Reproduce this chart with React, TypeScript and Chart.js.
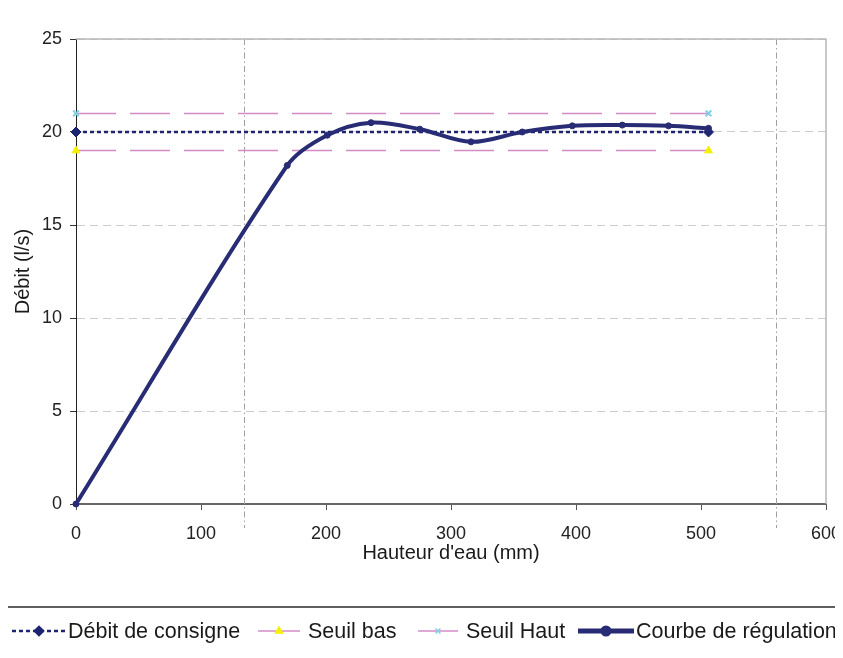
import React, { useEffect, useRef } from "react";
import { Chart, registerables } from "chart.js";
import { drawPoint } from "chart.js/helpers";

Chart.register(...registerables);

// ---- data ----
const hauteur = [0, 169, 201, 236, 275, 316, 357, 397, 437, 474, 506];
const debitRegulation = [0, 18.2, 19.83, 20.5, 20.15, 19.47, 20.0, 20.33, 20.37, 20.33, 20.2];
const seuilHauteur = [0, 506];
const debitConsigne = [20, 20];
const seuilBas = [19, 19];
const seuilHaut = [21, 21];
const xTickStep = 100;
const yTickStep = 5;
const xRange = [0, 600];
const yRange = [0, 25];
const refLines = [134.4, 560];
const labels = ["Débit de consigne", "Seuil bas", "Seuil Haut", "Courbe de régulation"];
const xTitle = "Hauteur d'eau (mm)";
const yTitle = "Débit (l/s)";

const FONT = '"Liberation Sans", Arial, Helvetica, sans-serif';
const NAVY = "#272c74";
const PINK = "#d48cc8";
const W = 835;
const H = 642;

const toPts = (xs: number[], ys: number[]) => xs.map((x, i) => ({ x, y: ys[i] }));

const framePlugin = {
  id: "frame",
  beforeDatasetsDraw(chart: any) {
    const { ctx, chartArea, scales } = chart;
    ctx.save();
    ctx.strokeStyle = "#a0a0a0";
    ctx.lineWidth = 1;
    ctx.setLineDash([6, 3, 1.5, 3]);
    refLines.forEach((v) => {
      const x = Math.round(scales.x.getPixelForValue(v)) + 0.5;
      ctx.beginPath();
      ctx.moveTo(x, chartArea.top);
      ctx.lineTo(x, chartArea.bottom + 24);
      ctx.stroke();
    });
    ctx.setLineDash([]);
    ctx.strokeStyle = "#b8b8b8";
    ctx.lineWidth = 1.5;
    ctx.beginPath();
    ctx.moveTo(chartArea.left, chartArea.top);
    ctx.lineTo(chartArea.right, chartArea.top);
    ctx.lineTo(chartArea.right, chartArea.bottom);
    ctx.stroke();
    ctx.restore();
  },
};

const legendLayout = [
  { x0: 4, x1: 58, tx: 60, solid: false, r: 4 },
  { x0: 250, x1: 292, tx: 300, solid: true, r: 4 },
  { x0: 410, x1: 450, tx: 458, solid: true, r: 3.5 },
  { x0: 570, x1: 626, tx: 628, solid: false, r: 3 },
];

const legendPlugin = {
  id: "customLegend",
  afterDraw(chart: any) {
    const { ctx, width } = chart;
    ctx.save();
    ctx.strokeStyle = "#5f5f5f";
    ctx.lineWidth = 2;
    ctx.beginPath();
    ctx.moveTo(0, 599);
    ctx.lineTo(width, 599);
    ctx.stroke();
    const y = 623;
    chart.data.datasets.forEach((ds: any, i: number) => {
      const L = legendLayout[i];
      ctx.save();
      ctx.strokeStyle = ds.borderColor;
      ctx.lineWidth = ds.legendLineWidth || ds.borderWidth;
      ctx.setLineDash(L.solid ? [] : ds.borderDash || []);
      ctx.beginPath();
      ctx.moveTo(L.x0, y);
      ctx.lineTo(L.x1, y);
      ctx.stroke();
      ctx.setLineDash([]);
      ctx.fillStyle = ds.pointBackgroundColor;
      ctx.strokeStyle = ds.pointBorderColor;
      drawPoint(ctx, {
        pointStyle: ds.pointStyle,
        radius: L.r,
        borderWidth: ds.pointBorderWidth,
        rotation: 0,
      }, (L.x0 + L.x1) / 2, y);
      ctx.restore();
      ctx.font = `21.5px ${FONT}`;
      ctx.fillStyle = "#1a1a1a";
      ctx.textBaseline = "middle";
      ctx.textAlign = "left";
      ctx.fillText(ds.label, L.tx, y + 1);
    });
    ctx.restore();
  },
};

export default function App() {
  const ref = useRef<HTMLCanvasElement | null>(null);
  useEffect(() => {
    document.documentElement.style.overflow = "hidden";
    const root = document.getElementById("root");
    if (root) root.style.width = W + "px";
    if (!ref.current) return;
    const chart = new Chart(ref.current, {
      type: "line",
      data: {
        datasets: [
          {
            label: labels[0],
            data: toPts(seuilHauteur, debitConsigne),
            borderColor: "#1e2470",
            borderWidth: 2.5,
            borderDash: [4, 3],
            pointStyle: "rectRot",
            pointRadius: 5,
            pointBackgroundColor: "#1e2470",
            pointBorderColor: "#1e2470",
            pointBorderWidth: 1,
            order: 1,
            clip: false,
          } as any,
          {
            label: labels[1],
            data: toPts(seuilHauteur, seuilBas),
            borderColor: PINK,
            borderWidth: 1.5,
            borderDash: [40, 14],
            pointStyle: "triangle",
            pointRadius: 4.5,
            pointBackgroundColor: "#f5f000",
            pointBorderColor: "#f5f000",
            pointBorderWidth: 1,
            order: 1,
            clip: false,
          } as any,
          {
            label: labels[2],
            data: toPts(seuilHauteur, seuilHaut),
            borderColor: PINK,
            borderWidth: 1.5,
            borderDash: [40, 14],
            pointStyle: "crossRot",
            pointRadius: 4,
            pointBackgroundColor: "#80d0e4",
            pointBorderColor: "#80d0e4",
            pointBorderWidth: 2,
            order: 1,
            clip: false,
          } as any,
          {
            label: labels[3],
            data: toPts(hauteur, debitRegulation),
            borderColor: NAVY,
            borderWidth: 4,
            legendLineWidth: 5,
            tension: 0.33,
            pointStyle: "circle",
            pointRadius: 3,
            pointBackgroundColor: NAVY,
            pointBorderColor: NAVY,
            pointBorderWidth: 1,
            order: 0,
            clip: false,
          } as any,
        ],
      },
      options: {
        animation: false,
        responsive: false,
        events: [],
        layout: { padding: { left: 0, right: 17, top: 31, bottom: 85 } },
        plugins: {
          legend: { display: false },
          tooltip: { enabled: false },
        },
        scales: {
          x: {
            type: "linear",
            min: xRange[0],
            max: xRange[1],
            ticks: {
              stepSize: xTickStep,
              padding: 13,
              color: "#222",
              font: { family: FONT, size: 18 },
            },
            grid: {
              drawOnChartArea: false,
              drawTicks: true,
              tickLength: 6,
              tickColor: "#555",
            },
            border: { display: true, color: "#666", width: 2 },
            title: {
              display: true,
              text: xTitle,
              color: "#1a1a1a",
              font: { family: FONT, size: 20 },
              padding: { top: 0, bottom: 0 },
            },
            afterFit: (s: any) => {
              s.height = 61;
              s.paddingLeft = 0;
              s.paddingRight = 0;
            },
          },
          y: {
            type: "linear",
            min: yRange[0],
            max: yRange[1],
            ticks: {
              stepSize: yTickStep,
              padding: 8,
              color: "#222",
              font: { family: FONT, size: 18 },
            },
            grid: {
              drawTicks: true,
              tickLength: 6,
              tickColor: "#333",
              color: (c: any) => (c.tick && c.tick.value === 0 ? "rgba(0,0,0,0)" : "#cccccc"),
              lineWidth: 1,
            },
            border: { display: true, color: "#222", width: 1, dash: [8, 5] },
            title: {
              display: true,
              text: yTitle,
              color: "#1a1a1a",
              font: { family: FONT, size: 20 },
              padding: { top: 3, bottom: 0 },
            },
            afterFit: (s: any) => {
              s.width = 68;
              s.paddingTop = 0;
              s.paddingBottom = 0;
            },
          },
        },
      },
      plugins: [framePlugin, legendPlugin],
    });
    return () => chart.destroy();
  }, []);
  return (
    <div style={{ width: W, height: H }}>
      <canvas ref={ref} width={W} height={H} style={{ display: "block", width: W, height: H }} />
    </div>
  );
}
